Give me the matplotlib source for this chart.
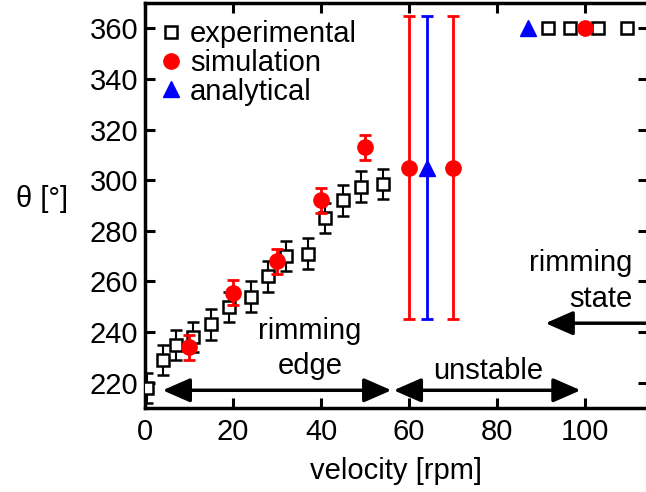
import matplotlib
matplotlib.use("Agg")
import matplotlib.pyplot as plt
from matplotlib.lines import Line2D

plt.rcParams['font.family'] = ['Liberation Sans', 'DejaVu Sans']
plt.rcParams['font.size'] = 21

# experimental data (rimming edge regime)
exp_v = [0.5, 4, 7, 11, 15, 19, 24, 28, 32, 37, 41, 45, 49, 54]
exp_theta = [218, 229, 235, 238, 243, 250, 254, 262, 270, 271, 285, 292, 297.5, 298.5]
exp_err = [6, 6, 6, 6, 6, 6, 6, 6, 6, 6, 6, 6, 6, 6]
# experimental data (rimming state)
exp_state_v = [91.5, 96.5, 103, 109.5]
exp_state_theta = [360, 360, 360, 360]

# simulation
sim_v = [10, 20, 30, 40, 50, 60, 70]
sim_theta = [234, 255.5, 268, 292, 313, 305, 305]
sim_err = [5, 5, 5, 5, 5, 60, 60]
sim_state_v = [100]
sim_state_theta = [360]

# analytical
ana_v = [64]
ana_theta = [305]
ana_err = [60]
ana_state_v = [87]
ana_state_theta = [360]

x_ticks = [0, 20, 40, 60, 80, 100]
y_ticks = [220, 240, 260, 280, 300, 320, 340, 360]

fig = plt.figure(figsize=(6.46, 4.92), dpi=100)
ax = fig.add_axes([145 / 646, 84 / 492, (648 - 145) / 646, (408 - 3) / 492])

sq = dict(marker='s', mfc='white', mec='black', ms=8, mew=1.8)
ax.errorbar(exp_v, exp_theta, yerr=exp_err, fmt='s', color='black', mfc='white',
            mec='black', ms=8, mew=1.8, elinewidth=1.5, capsize=4, capthick=1.5, zorder=3)
ax.plot(exp_state_v, exp_state_theta, ls='none', zorder=3, **sq)

ax.errorbar(sim_v, sim_theta, yerr=sim_err, fmt='o', color='#ff0000', ms=11,
            elinewidth=2, capsize=4, capthick=2, zorder=4)
ax.plot(sim_state_v, sim_state_theta, 'o', color='#ff0000', ms=11, zorder=4)

ax.errorbar(ana_v, ana_theta, yerr=ana_err, fmt='^', color='#0000ff', ms=11,
            elinewidth=2, capsize=4, capthick=2, zorder=4)
ax.plot(ana_state_v, ana_state_theta, '^', color='#0000ff', ms=11, zorder=4)

# regime arrows
arrow_kw = dict(arrowstyle='<|-|>,head_length=0.8,head_width=0.35', color='black', lw=2.5,
                shrinkA=0, shrinkB=0)
ax.annotate('', xy=(4, 217), xytext=(56, 217), arrowprops=arrow_kw)
ax.annotate('', xy=(56.5, 217), xytext=(99, 217), arrowprops=arrow_kw)
ax.annotate('', xy=(91, 243.5), xytext=(116, 243.5),
            arrowprops=dict(arrowstyle='-|>,head_length=0.8,head_width=0.35', color='black',
                            lw=2.5, shrinkA=0, shrinkB=0))

ax.text(37.5, 233.5, 'rimming\nedge', ha='center', va='center', linespacing=1.35)
ax.text(78, 224.5, 'unstable', ha='center', va='center')
ax.text(110.8, 260.2, 'rimming\nstate', ha='right', va='center', multialignment='right',
        linespacing=1.35)

ax.set_xlim(0, 114.3)
ax.set_ylim(210, 370)
ax.set_xticks(x_ticks)
ax.set_yticks(y_ticks)
ax.tick_params(direction='in', length=7, width=2.2, top=True, right=True, pad=7)
ax.tick_params(axis='y', pad=5)
for s in ax.spines.values():
    s.set_linewidth(2.5)

ax.set_xlabel('velocity [rpm]')
ax.xaxis.set_label_coords(0.5, -0.12)
ax.set_ylabel('θ [°]', rotation=0, va='center', ha='center')
ax.yaxis.set_label_coords(-0.205, 0.515)

handles = [
    Line2D([], [], ls='none', **sq),
    Line2D([], [], ls='none', marker='o', color='#ff0000', ms=11),
    Line2D([], [], ls='none', marker='^', color='#0000ff', ms=11),
]
ax.legend(handles, ['experimental', 'simulation', 'analytical'], loc='upper left',
          frameon=False, handlelength=0.6, handletextpad=0.35,
          borderaxespad=0.3, labelspacing=0.02, borderpad=0.3)

fig.savefig('out.png', dpi=100)
